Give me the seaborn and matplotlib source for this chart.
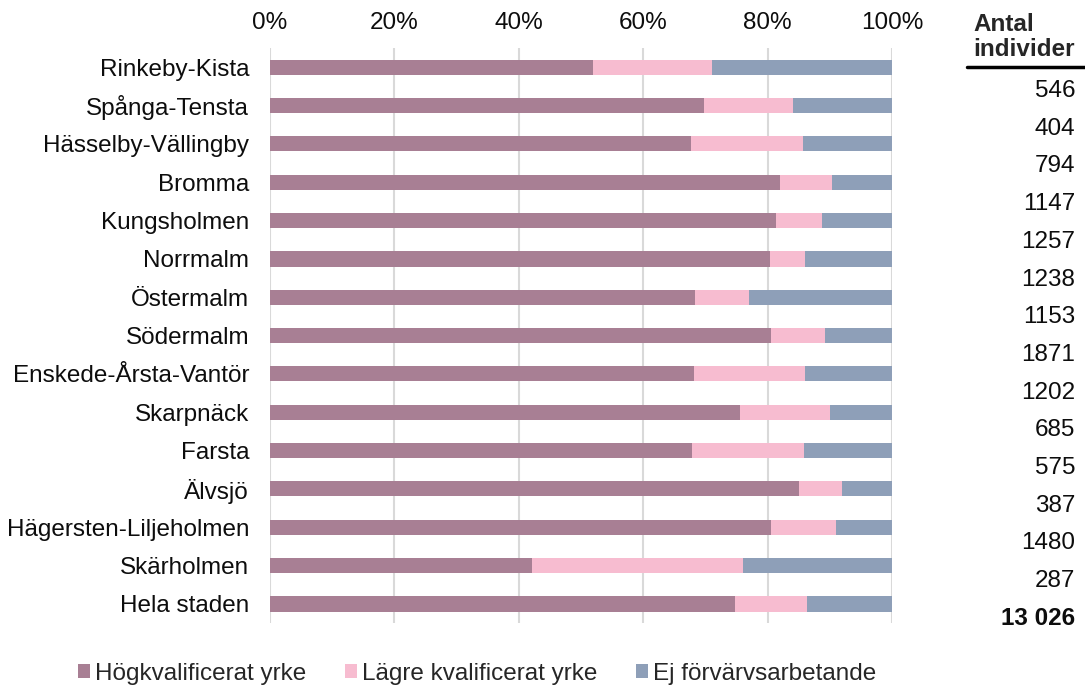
import seaborn as sns
import pandas as pd
import matplotlib.pyplot as plt

omraden = ['Rinkeby-Kista', 'Spånga-Tensta', 'Hässelby-Vällingby', 'Bromma',
           'Kungsholmen', 'Norrmalm', 'Östermalm', 'Södermalm',
           'Enskede-Årsta-Vantör', 'Skarpnäck', 'Farsta', 'Älvsjö',
           'Hägersten-Liljeholmen', 'Skärholmen', 'Hela staden']
hog = [51.9, 69.7, 67.7, 82.0, 81.3, 80.4, 68.4, 80.5, 68.2, 75.5, 67.8, 85.1, 80.5, 42.1, 74.7]
lagre = [19.1, 14.4, 18.0, 8.3, 7.5, 5.6, 8.6, 8.8, 17.8, 14.5, 18.0, 6.9, 10.5, 33.9, 11.6]
ej = [29.0, 15.9, 14.3, 9.7, 11.2, 14.0, 23.0, 10.7, 14.0, 10.0, 14.2, 8.0, 9.0, 24.0, 13.7]
antal = ['546', '404', '794', '1147', '1257', '1238', '1153', '1871', '1202',
         '685', '575', '387', '1480', '287', '13 026']
serier = ['Högkvalificerat yrke', 'Lägre kvalificerat yrke', 'Ej förvärvsarbetande']
farger = ['#a87f94', '#f7bcd0', '#8e9fb8']

df = pd.DataFrame({'omrade': omraden, 'hog': hog, 'lagre': lagre, 'ej': ej})
# cumulative ends for stacking
df['c1'] = df['hog']
df['c2'] = df['hog'] + df['lagre']
df['c3'] = df['c2'] + df['ej']

sns.set_style('white')
plt.rcParams['font.family'] = ['Liberation Sans', 'DejaVu Sans']
fs = 17.5

fig = plt.figure(figsize=(10.85, 6.91), dpi=100)
ax = fig.add_axes([270 / 1085, 1 - 623 / 691, 622 / 1085, 575 / 691])

for col, c, lab in zip(['c3', 'c2', 'c1'], farger[::-1], serier[::-1]):
    sns.barplot(data=df, x=col, y='omrade', color=c, width=0.4, saturation=1,
                label=lab, ax=ax, zorder=3, linewidth=0)

ax.set_xlim(0, 100)
ax.set_ylim(14.5, -0.5)
ax.set_xticks(range(0, 101, 20))
ax.set_xticklabels([f'{v}%' for v in range(0, 101, 20)])
ax.xaxis.tick_top()
ax.tick_params(axis='x', length=0, pad=10, labelsize=fs, labelcolor='#0d0d0d')
ax.tick_params(axis='y', length=0, pad=15, labelsize=fs, labelcolor='#0d0d0d')
ax.set_xlabel('')
ax.set_ylabel('')
ax.grid(axis='x', color='#d9d9d9', linewidth=1.5, zorder=0)
ax.set_axisbelow(True)
for s in ax.spines.values():
    s.set_visible(False)

# right column with counts
fig.text(1075 / 1085, 1 - 37 / 691, 'Antal\nindivider', ha='right', va='center',
         multialignment='left', fontsize=fs, fontweight='bold', linespacing=1.1)
fig.add_artist(plt.Line2D([967 / 1085, 1], [1 - 67 / 691, 1 - 67 / 691],
                          color='black', linewidth=2.5))
for i, n in enumerate(antal):
    fig.text(1075 / 1085, 1 - (91 + i * 37.7) / 691, n, ha='right', va='center',
             fontsize=fs, color='#0d0d0d',
             fontweight='bold' if i == len(antal) - 1 else 'normal')

handles, labels = ax.get_legend_handles_labels()
if ax.get_legend():
    ax.get_legend().remove()
order = [labels.index(s) for s in serier]
fig.legend([handles[i] for i in order], serier, loc='center',
           bbox_to_anchor=(477 / 1085, 1 - 674 / 691), ncol=3, frameon=False,
           fontsize=fs, handlelength=0.5, handleheight=0.5,
           handletextpad=0.2, columnspacing=1.6, borderaxespad=0, borderpad=0)

plt.savefig('out.png', dpi=100)
